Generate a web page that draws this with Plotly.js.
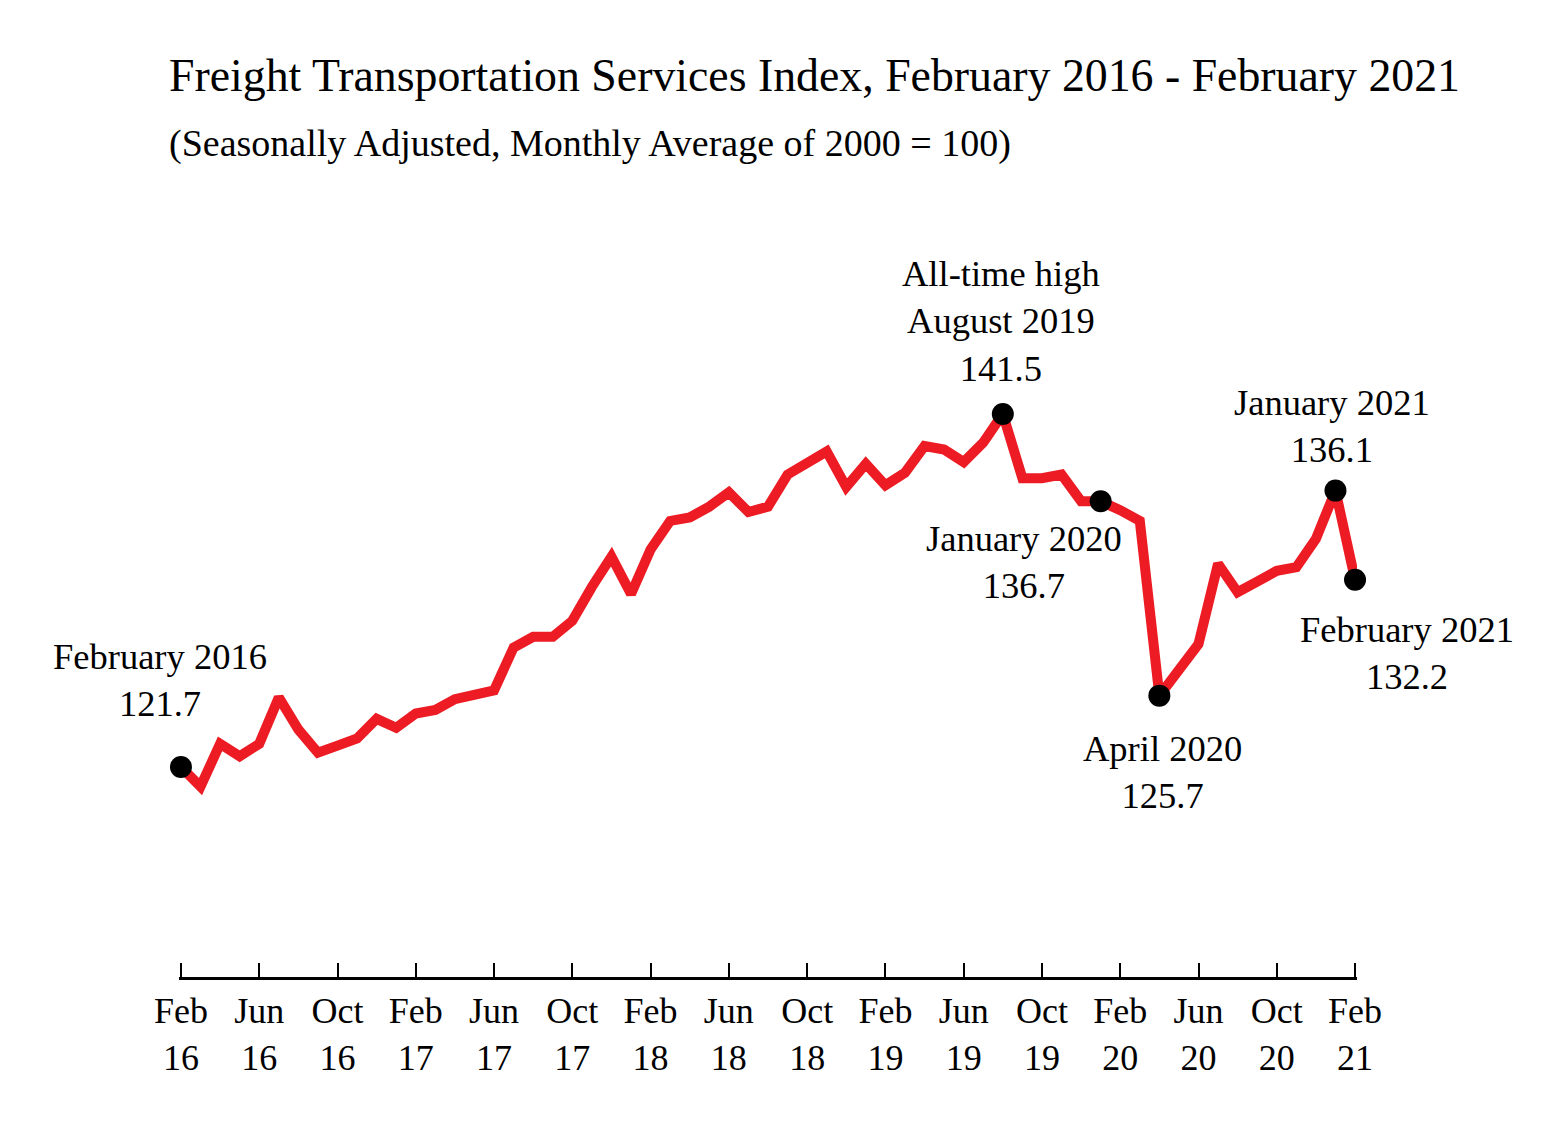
<!DOCTYPE html>
<html>
<head>
<meta charset="utf-8">
<script src="https://cdn.plot.ly/plotly-3.0.1.min.js"></script>
<style>
  html, body { margin: 0; padding: 0; background: #fff; }
  #chart { width: 1567px; height: 1130px; }
</style>
</head>
<body>
<div id="chart"></div>
<script>
'use strict';

// months Feb 2016 .. Feb 2021
const months = [
  '2016-02','2016-03','2016-04','2016-05','2016-06','2016-07','2016-08','2016-09','2016-10','2016-11','2016-12',
  '2017-01','2017-02','2017-03','2017-04','2017-05','2017-06','2017-07','2017-08','2017-09','2017-10','2017-11','2017-12',
  '2018-01','2018-02','2018-03','2018-04','2018-05','2018-06','2018-07','2018-08','2018-09','2018-10','2018-11','2018-12',
  '2019-01','2019-02','2019-03','2019-04','2019-05','2019-06','2019-07','2019-08','2019-09','2019-10','2019-11','2019-12',
  '2020-01','2020-02','2020-03','2020-04','2020-05','2020-06','2020-07','2020-08','2020-09','2020-10','2020-11','2020-12',
  '2021-01','2021-02'
];

// index values
const tsi = [
  121.7, 120.6, 123.0, 122.3, 123.0, 125.6, 123.8, 122.5, 122.9, 123.3, 124.4,
  123.9, 124.7, 124.9, 125.5, 125.8, 126.0, 128.4, 129.0, 129.0, 129.9, 131.8, 133.5,
  131.4, 133.9, 135.5, 135.7, 136.3, 137.1, 136.0, 136.3, 138.1, 138.8, 139.4, 137.4,
  138.7, 137.5, 138.2, 139.7, 139.5, 138.8, 139.9, 141.5, 137.9, 137.9, 138.1, 136.6,
  136.6, 136.1, 135.5, 125.7, 127.1, 128.6, 133.1, 131.5, 132.1, 132.7, 132.9, 134.5,
  137.2, 132.2
];

const tickMonths = ['2016-02','2016-06','2016-10','2017-02','2017-06','2017-10','2018-02','2018-06',
  '2018-10','2019-02','2019-06','2019-10','2020-02','2020-06','2020-10','2021-02'];
const tickLabels = ['Feb<br>16','Jun<br>16','Oct<br>16','Feb<br>17','Jun<br>17','Oct<br>17','Feb<br>18','Jun<br>18',
  'Oct<br>18','Feb<br>19','Jun<br>19','Oct<br>19','Feb<br>20','Jun<br>20','Oct<br>20','Feb<br>21'];

// highlighted points
const hiMonths = ['2016-02', '2019-08', '2020-01', '2020-04', '2021-01', '2021-02'];
const hiNames = ['February 2016', 'All-time high<br>August 2019', 'January 2020', 'April 2020', 'January 2021', 'February 2021'];
const hiValues = ['121.7', '141.5', '136.7', '125.7', '136.1', '132.2'];

const SERIF = '"Liberation Serif", "Times New Roman", serif';
const labelShift = [[-21, 87], [-2, 93], [-77, -61], [3, -76], [-3, 65], [52, -73]];

const hiY = hiMonths.map(m => tsi[months.indexOf(m)]);

const traces = [
  {
    x: months, y: tsi, type: 'scatter', mode: 'lines',
    line: { color: '#ED1C24', width: 10 },
    hoverinfo: 'skip',
  },
  {
    x: hiMonths, y: hiY, type: 'scatter', mode: 'markers',
    marker: { color: '#000', size: 22 },
    cliponaxis: false,
    hoverinfo: 'skip',
  },
];

const notes = hiMonths.map((m, i) => ({
  x: m, y: hiY[i], xref: 'x', yref: 'y',
  text: hiNames[i] + '<br>' + hiValues[i],
  showarrow: false, xanchor: 'center', yanchor: 'middle',
  xshift: labelShift[i][0], yshift: labelShift[i][1],
  font: { family: SERIF, size: 36.5, color: '#000' },
}));

notes.push({
  xref: 'paper', yref: 'paper', x: -0.0102, y: 1.0, xanchor: 'left', yanchor: 'bottom', yshift: 97,
  text: 'Freight Transportation Services Index, February 2016 - February 2021',
  showarrow: false, font: { family: SERIF, size: 45.8, color: '#000' },
});
notes.push({
  xref: 'paper', yref: 'paper', x: -0.0102, y: 1.0, xanchor: 'left', yanchor: 'bottom', yshift: 33,
  text: '(Seasonally Adjusted, Monthly Average of 2000 = 100)',
  showarrow: false, font: { family: SERIF, size: 38, color: '#000' },
});

const layout = {
  width: 1567, height: 1130,
  margin: { l: 179, r: 210, t: 200, b: 153 },
  paper_bgcolor: '#fff', plot_bgcolor: '#fff',
  showlegend: false,
  font: { family: SERIF, color: '#000' },
  xaxis: {
    type: 'category', range: [-0.1, 60.1],
    showgrid: false, zeroline: false,
    showline: true, linecolor: '#000', linewidth: 3,
    ticks: 'inside', ticklen: 14, tickwidth: 2, tickcolor: '#000',
    tickvals: tickMonths, ticktext: tickLabels,
    tickfont: { family: SERIF, size: 36, color: '#000' },
  },
  yaxis: {
    range: [109.92, 153.5], visible: false, showgrid: false, zeroline: false,
  },
  annotations: notes,
};

Plotly.newPlot('chart', traces, layout, { staticPlot: true, displayModeBar: false });
</script>
</body>
</html>
